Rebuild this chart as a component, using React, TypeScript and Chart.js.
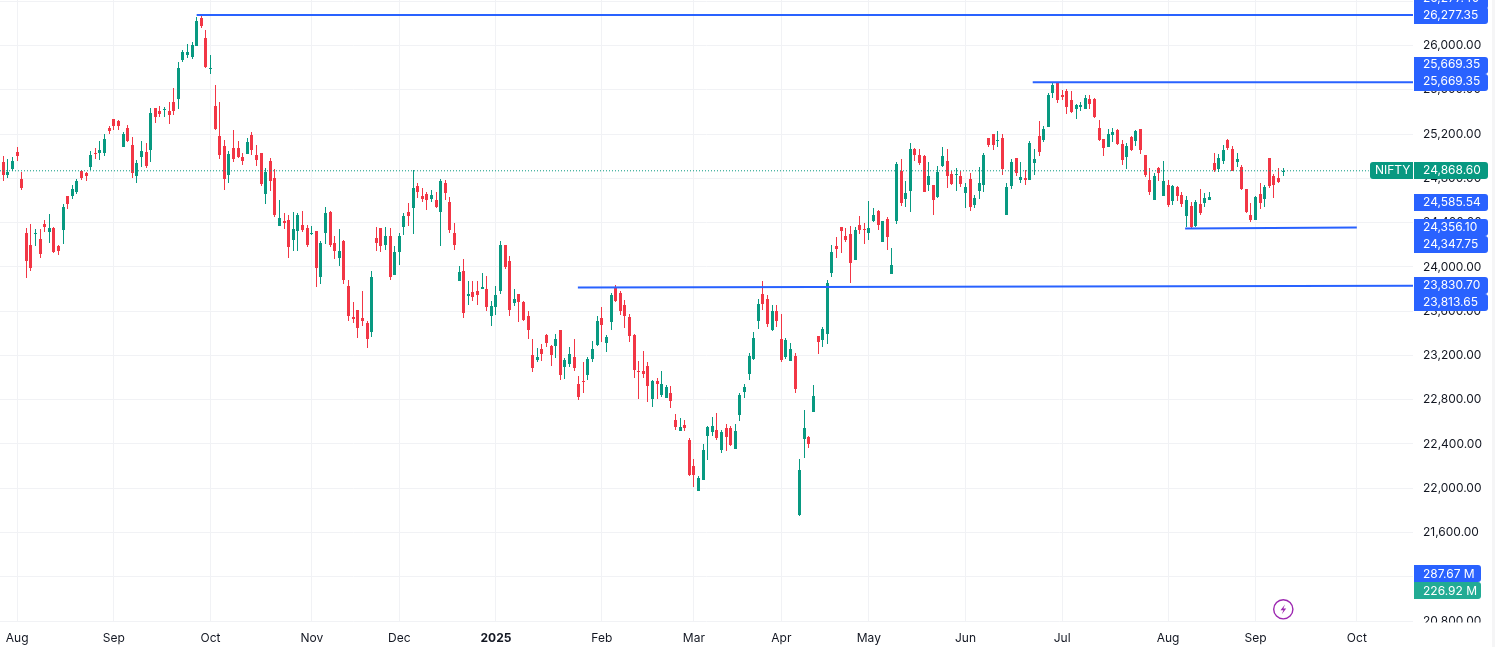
import { useEffect, useRef } from 'react';
import { Chart, registerables } from 'chart.js';

Chart.register(...registerables);

const UP = '#089981';
const DOWN = '#F23645';
const LINE_BLUE = '#2962FF';
const GRID = '#F1F2F5';
const TEXT = '#131722';
const FONT = 'Inter';

// first bar sits just off the left edge
const firstBar = -1;

const opens = [24424,
  24945, 24831, 24885, 25039, 24795, 24307, 24198, 24298, 24252, 24388,
  24316, 24352, 24189, 24334, 24641, 24641, 24677, 24867, 24849, 24903,
  25030, 25030, 25030, 25255, 25337, 25319, 25084, 25255, 25102, 24822,
  24993, 25039, 25057, 25436, 25409, 25418, 25409, 25490, 25517, 25870,
  25915, 25897, 25996, 26249, 26069, 25789, 25454, 25183, 25093, 24831,
  25075, 25075, 24993, 25020, 25192, 25011, 25030, 24659, 24957, 24804,
  24370, 24415, 24424, 24243, 24325, 24379, 24352, 24298, 24325, 23909,
  24307, 24496, 24216, 24081, 24234, 23828, 23547, 23610, 23538, 23493,
  23411, 24261, 24352, 24198, 24279, 23927, 24134, 24360, 24496, 24532,
  24731, 24641, 24659, 24614, 24605, 24496, 24758, 24587, 24307, 23873,
  23963, 23738, 23774, 23782, 23801, 23801, 23557, 23638, 23782, 24198,
  24054, 23674, 23756, 23683, 23557, 23204, 23159, 23258, 23385, 23285,
  23285, 23430, 23096, 23123, 23186, 22942, 22969, 23023, 23168, 23294,
  23538, 23312, 23502, 23818, 23764, 23656, 23547, 23385, 23059, 23059,
  23105, 22806, 22969, 22842, 22815, 22861, 22617, 22517, 22571, 22436,
  22201, 21975, 22074, 22472, 22508, 22526, 22346, 22544, 22544, 22355,
  22662, 22870, 23032, 23168, 23511, 23755, 23710, 23430, 23602, 23349,
  23186, 23150, 23195, 21758, 22445, 22463, 22689, 23376, 23339, 23394,
  23945, 24189, 24361, 24279, 24298, 24063, 24379, 24343, 24307, 24415,
  24505, 24225, 24433, 23936, 24415, 24867, 24614, 24686, 25066, 25011,
  25002, 24740, 24740, 24632, 24912, 24957, 24840, 24831, 24821, 24668,
  24795, 24560, 24686, 24740, 25165, 25201, 25138, 25165, 24469, 24731,
  24984, 24786, 24804, 24786, 24939, 25184, 25147, 25265, 25572, 25671,
  25554, 25590, 25509, 25427, 25445, 25427, 25518, 25518, 25255, 25156,
  25083, 25192, 25237, 25111, 24993, 25174, 25138, 25247, 25011, 24786,
  24604, 24894, 24641, 24740, 24596, 24722, 24650, 24461, 24551, 24370,
  24569, 24578, 24604, 24939, 24885, 24957, 25147, 25066, 24948, 24903,
  24704, 24469, 24424, 24659, 24614, 24984, 24821, 24804, 24860,
];

const closes = [24876,
  24831, 24858, 24957, 25002, 24710, 24054, 23990, 24307, 24117, 24361,
  24352, 24135, 24144, 24542, 24569, 24704, 24777, 24804, 24822, 25011,
  25020, 25057, 25156, 25228, 25273, 25273, 25201, 25138, 24849, 24939,
  25048, 24912, 25391, 25355, 25382, 25427, 25373, 25409, 25798, 25942,
  25942, 26005, 26222, 26177, 25807, 25798, 25246, 25011, 24795, 25020,
  24975, 24993, 24957, 25129, 25057, 24966, 24749, 24858, 24777, 24469,
  24442, 24397, 24180, 24343, 24469, 24334, 24198, 24307, 23990, 24216,
  24487, 24198, 24144, 24144, 23882, 23557, 23529, 23448, 23512, 23348,
  23909, 24216, 24189, 24279, 23909, 24134, 24279, 24460, 24460, 24713,
  24677, 24614, 24605, 24650, 24541, 24777, 24668, 24334, 24198, 23955,
  23584, 23756, 23729, 23746, 23819, 23638, 23647, 23746, 24198, 23999,
  23610, 23710, 23683, 23520, 23430, 23086, 23186, 23213, 23312, 23204,
  23348, 23023, 23159, 23213, 23086, 22825, 22960, 23168, 23258, 23512,
  23475, 23367, 23746, 23692, 23602, 23556, 23376, 23068, 23050, 23032,
  22924, 22969, 22942, 22942, 22915, 22788, 22553, 22553, 22544, 22120,
  22120, 22093, 22346, 22553, 22562, 22454, 22508, 22463, 22391, 22517,
  22842, 22915, 23195, 23358, 23665, 23665, 23484, 23602, 23511, 23159,
  23339, 23258, 22897, 22165, 22544, 22400, 22833, 23321, 23439, 23855,
  24135, 24162, 24325, 24243, 24036, 24334, 24334, 24334, 24352, 24469,
  24379, 24415, 24270, 24017, 24930, 24578, 24668, 25066, 25011, 24939,
  24677, 24821, 24604, 24857, 25002, 24821, 24750, 24840, 24750, 24722,
  24542, 24623, 24759, 25011, 25102, 25102, 25147, 24885, 24722, 24948,
  24849, 24813, 24786, 25120, 24975, 25039, 25247, 25554, 25644, 25509,
  25536, 25445, 25400, 25463, 25463, 25527, 25472, 25355, 25147, 25075,
  25201, 25219, 25111, 24966, 25093, 25057, 25228, 25057, 24831, 24677,
  24821, 24849, 24776, 24560, 24731, 24641, 24569, 24604, 24361, 24587,
  24488, 24623, 24632, 24876, 24984, 25057, 25075, 24867, 24975, 24704,
  24496, 24424, 24632, 24578, 24722, 24731, 24740, 24768, 24868.6,
];

const highs = [24950,
  25002, 24975, 24993, 25084, 24858, 24352, 24388, 24343, 24343, 24424,
  24478, 24361, 24198, 24569, 24641, 24740, 24795, 24876, 24858, 25048,
  25075, 25138, 25201, 25273, 25337, 25328, 25219, 25282, 25174, 24966,
  25138, 25120, 25436, 25436, 25454, 25445, 25490, 25617, 25852, 25960,
  26014, 26032, 26258, 26277, 26141, 25915, 25644, 25490, 25147, 25048,
  25237, 25138, 25030, 25165, 25219, 25102, 25030, 24894, 24984, 24885,
  24605, 24487, 24469, 24496, 24487, 24505, 24379, 24370, 24325, 24234,
  24541, 24505, 24279, 24343, 24243, 23882, 23683, 23610, 23782, 23512,
  23963, 24360, 24352, 24360, 24352, 24189, 24307, 24487, 24578, 24876,
  24758, 24713, 24677, 24695, 24677, 24795, 24786, 24632, 24397, 24008,
  24071, 23873, 23873, 23873, 23945, 23918, 23692, 23828, 24234, 24198,
  24099, 23801, 23756, 23692, 23602, 23348, 23267, 23304, 23394, 23294,
  23394, 23430, 23177, 23276, 23348, 23014, 23141, 23186, 23331, 23557,
  23638, 23385, 23764, 23836, 23782, 23701, 23574, 23394, 23150, 23240,
  23141, 22978, 22996, 23059, 22933, 22924, 22671, 22635, 22617, 22454,
  22264, 22111, 22400, 22562, 22644, 22680, 22526, 22580, 22562, 22580,
  22861, 22942, 23222, 23412, 23710, 23873, 23746, 23656, 23656, 23574,
  23358, 23312, 23222, 22264, 22707, 22472, 22933, 23376, 23457, 23882,
  24198, 24273, 24361, 24352, 24370, 24361, 24461, 24397, 24596, 24533,
  24514, 24415, 24451, 24171, 24948, 24975, 24776, 25120, 25075, 25066,
  25011, 24948, 24740, 24912, 25083, 25066, 24867, 24894, 24867, 24759,
  24849, 24650, 24903, 25030, 25165, 25201, 25228, 25201, 24759, 24975,
  24984, 24948, 24876, 25138, 25066, 25319, 25274, 25572, 25662, 25671,
  25599, 25608, 25590, 25472, 25490, 25554, 25554, 25527, 25328, 25156,
  25247, 25255, 25247, 25147, 25120, 25184, 25237, 25247, 25011, 24894,
  24849, 24903, 24957, 24786, 24740, 24731, 24677, 24641, 24587, 24604,
  24704, 24668, 24677, 25030, 25021, 25102, 25156, 25093, 25030, 24921,
  24704, 24578, 24641, 24759, 24740, 24984, 24840, 24894, 24894,
];

const lows = [24415,
  24777, 24807, 24864, 24957, 24695, 23900, 23963, 24189, 24081, 24316,
  24216, 24126, 24108, 24207, 24523, 24614, 24659, 24786, 24777, 24876,
  24975, 24966, 25002, 25201, 25237, 25237, 25084, 25129, 24804, 24758,
  24903, 24894, 24948, 25301, 25355, 25355, 25292, 25373, 25427, 25852,
  25888, 25879, 25996, 26159, 25798, 25743, 25237, 24975, 24695, 24758,
  24948, 24984, 24921, 25020, 25011, 24912, 24731, 24569, 24686, 24451,
  24370, 24343, 24081, 24144, 24144, 24316, 24180, 24289, 23819, 23846,
  24207, 24180, 24071, 24008, 23846, 23512, 23493, 23357, 23466, 23267,
  23366, 24144, 24134, 24153, 23882, 23927, 24017, 24289, 24370, 24298,
  24623, 24587, 24514, 24587, 24532, 24189, 24605, 24307, 24153, 23873,
  23538, 23656, 23692, 23656, 23801, 23602, 23466, 23566, 23756, 23981,
  23557, 23647, 23502, 23512, 23348, 23050, 23141, 23150, 23276, 23105,
  23177, 22978, 22987, 23096, 23060, 22798, 22861, 22978, 23141, 23285,
  23321, 23231, 23430, 23683, 23565, 23448, 23321, 22996, 22806, 22996,
  22779, 22734, 22806, 22824, 22815, 22725, 22526, 22517, 22517, 22111,
  22011, 21975, 22074, 22255, 22472, 22436, 22318, 22337, 22382, 22355,
  22608, 22815, 22978, 23159, 23439, 23611, 23457, 23421, 23457, 23141,
  23168, 23150, 22861, 21749, 22273, 22364, 22689, 23213, 23276, 23303,
  23909, 24081, 24126, 24225, 23855, 24063, 24298, 24207, 24243, 24406,
  24334, 24225, 24153, 23936, 24388, 24551, 24542, 24496, 24957, 24921,
  24677, 24686, 24469, 24623, 24903, 24713, 24740, 24686, 24722, 24533,
  24505, 24533, 24614, 24677, 25083, 25057, 25083, 24831, 24469, 24704,
  24821, 24759, 24740, 24786, 24831, 25002, 25129, 25265, 25527, 25481,
  25509, 25382, 25391, 25336, 25409, 25427, 25427, 25346, 25138, 25002,
  25083, 25129, 25102, 24921, 24885, 25048, 25093, 25021, 24813, 24650,
  24604, 24776, 24641, 24542, 24560, 24596, 24542, 24361, 24343, 24361,
  24469, 24542, 24604, 24857, 24857, 24930, 25057, 24867, 24903, 24695,
  24488, 24406, 24424, 24523, 24542, 24713, 24623, 24759, 24821,
];

const monthBars = [3, 24, 45, 67, 86, 107, 130, 150, 169, 188, 209, 230, 253, 272, 294];
const monthLabels = ['Aug', 'Sep', 'Oct', 'Nov', 'Dec', '2025', 'Feb', 'Mar', 'Apr', 'May', 'Jun', 'Jul', 'Aug', 'Sep', 'Oct'];
const priceTicks = [20800, 21200, 21600, 22000, 22400, 22800, 23200, 23600, 24000, 24400, 24800, 25200, 25600, 26000, 26400];

const lastPrice = 24868.6;
const topLine = [[42, 26277.35], [306.2, 26277.35]];
const julyLine = [[223.6, 25669.35], [306.2, 25669.35]];
const augustLine = [[256.7, 24347.75], [294, 24356.1]];
const februaryLine = [[124.8, 23813.65], [306.2, 23830.7]];

// scale tags, stacked the way the price scale stacks them
const tags = [
  { text: '26,277.40', y: -2, top: -8, h: 17, color: LINE_BLUE, right: 1488 },
  { text: '26,277.35', y: 15, top: 7, h: 17, color: LINE_BLUE, right: 1488 },
  { text: '25,669.35', y: 64.5, top: 57, h: 17, color: LINE_BLUE, right: 1488 },
  { text: '25,669.35', y: 81.5, top: 74, h: 17, color: LINE_BLUE, right: 1488 },
  { text: '24,868.60', y: 170.5, top: 162, h: 17, color: UP, right: 1488 },
  { text: '24,585.54', y: 202, top: 194, h: 17, color: LINE_BLUE, right: 1488 },
  { text: '24,356.10', y: 227, top: 219, h: 17, color: LINE_BLUE, right: 1488 },
  { text: '24,347.75', y: 244, top: 236, h: 17, color: LINE_BLUE, right: 1488 },
  { text: '23,830.70', y: 285, top: 277, h: 17, color: LINE_BLUE, right: 1488 },
  { text: '23,813.65', y: 302, top: 294, h: 17, color: LINE_BLUE, right: 1488 },
  { text: '287.67 M', y: 574, top: 565, h: 17, color: LINE_BLUE, right: 1481 },
  { text: '226.92 M', y: 591, top: 582, h: 17, color: '#22AB94', right: 1481 },
];

const snapBars = {
  id: 'snapBars',
  afterDatasetsUpdate(chart: any) {
    chart.data.datasets.forEach((ds: any, d: number) => {
      if (ds.type === 'line') return;
      chart.getDatasetMeta(d).data.forEach((el: any) => {
        const top = Math.round(Math.min(el.y, el.base));
        const bottom = Math.max(Math.round(Math.max(el.y, el.base)), top + 1);
        el.x = Math.floor(el.x) + 0.5;
        el.y = top;
        el.base = bottom;
      });
    });
  },
};

const scaleTags = {
  id: 'scaleTags',
  afterDraw(chart: any) {
    const { ctx } = chart;
    ctx.save();
    // the scale label under the time axis is cut off
    ctx.fillStyle = '#fff';
    ctx.fillRect(1413, 622.5, 80, 24);
    ctx.font = `12px ${FONT}`;
    ctx.textBaseline = 'middle';
    tags.forEach((t) => {
      ctx.fillStyle = t.color;
      ctx.beginPath();
      ctx.roundRect(1414, t.top, t.right - 1414, t.h, [0, 3, 3, 0]);
      ctx.fill();
      ctx.fillStyle = '#fff';
      ctx.textAlign = 'left';
      ctx.fillText(t.text, 1423, t.y);
    });
    ctx.fillStyle = UP;
    ctx.beginPath();
    ctx.roundRect(1370, 162, 43, 17, [3, 0, 0, 3]);
    ctx.fill();
    ctx.fillStyle = '#fff';
    ctx.fillText('NIFTY', 1375, 170.5);
    ctx.restore();
  },
};

const line = (points: number[][], color: string, width: number, dash: number[] = []) => ({
  type: 'line' as const,
  data: points.map(([x, y]) => ({ x, y })),
  borderColor: color,
  borderWidth: width,
  borderDash: dash,
  pointRadius: 0,
  order: 1,
});

export default function App() {
  const chartRef = useRef<HTMLCanvasElement | null>(null);

  useEffect(() => {
    if (!chartRef.current) return;
    const ctx = chartRef.current.getContext('2d');
    if (!ctx) return;

    const color = (c: any) => (closes[c.dataIndex] >= opens[c.dataIndex] ? UP : DOWN);

    const chartInstance = new Chart(ctx, {
      type: 'bar',
      data: {
        datasets: [
          {
            data: highs.map((h, i) => ({ x: i + firstBar, y: [lows[i], h] })),
            backgroundColor: color,
            barThickness: 1,
            inflateAmount: 0,
            grouped: false,
            order: 3,
          },
          {
            data: opens.map((o, i) => ({ x: i + firstBar, y: [o, closes[i]] })),
            backgroundColor: color,
            barThickness: 3,
            inflateAmount: 0,
            grouped: false,
            order: 2,
          },
          line(topLine, LINE_BLUE, 2),
          line(julyLine, LINE_BLUE, 2),
          line(augustLine, LINE_BLUE, 2),
          line(februaryLine, LINE_BLUE, 2),
          line([[-0.72, lastPrice], [296.6, lastPrice]], UP, 1, [1, 2]),
        ] as any,
      },
      options: {
        responsive: false,
        animation: false,
        devicePixelRatio: 1,
        layout: { padding: 0 },
        plugins: { legend: { display: false }, tooltip: { enabled: false } },
        scales: {
          x: {
            type: 'linear',
            min: -0.72,
            max: 306.2,
            offset: false,
            border: { display: false },
            grid: { color: GRID, drawTicks: false, offset: false },
            ticks: {
              autoSkip: false,
              maxRotation: 0,
              padding: 10,
              color: TEXT,
              font: (c: any) => ({
                family: FONT,
                size: 12,
                weight: c.tick && monthLabels[monthBars.indexOf(c.tick.value)] === '2025' ? 'bold' : 'normal',
              }),
              callback: (v: any) => monthLabels[monthBars.indexOf(v)],
            },
            afterBuildTicks: (s: any) => {
              s.ticks = monthBars.map((value) => ({ value }));
            },
            afterFit: (s: any) => {
              s.height = 26;
              s.paddingLeft = 0;
              s.paddingRight = 0;
            },
          },
          y: {
            position: 'right',
            min: 20800,
            max: 26412,
            border: { display: false },
            grid: { color: GRID, drawTicks: false },
            ticks: {
              padding: 10,
              color: TEXT,
              font: { family: FONT, size: 12 },
              callback: (v: any) => Number(v).toLocaleString('en-US', { minimumFractionDigits: 2 }),
            },
            afterBuildTicks: (s: any) => {
              s.ticks = priceTicks.map((value) => ({ value }));
            },
            afterFit: (s: any) => {
              s.width = 90;
              s.paddingTop = 0;
              s.paddingBottom = 0;
            },
          },
        },
      } as any,
      plugins: [snapBars, scaleTags],
    });

    return () => {
      chartInstance.destroy();
    };
  }, []);

  return (
    <div style={{ position: 'absolute', left: 0, top: 0, width: 1503, height: 647, background: '#fff', overflow: 'hidden' }}>
      <canvas ref={chartRef} width={1503} height={647} style={{ display: 'block' }}></canvas>
      <div style={{ position: 'absolute', left: 1492, top: 0, width: 3, height: 647, background: '#F5F5F6' }}></div>
      <svg style={{ position: 'absolute', left: 1272, top: 598 }} width="23" height="23" viewBox="0 0 23 23">
        <circle cx="11.3" cy="11.3" r="9.6" fill="none" stroke="#9C27B0" strokeWidth="1.4" />
        <path d="M13 6.5 L8.5 12.2 H11.4 L9.8 16.2 L14.2 10.6 H11.4 Z" fill="#9C27B0" />
      </svg>
    </div>
  );
}
